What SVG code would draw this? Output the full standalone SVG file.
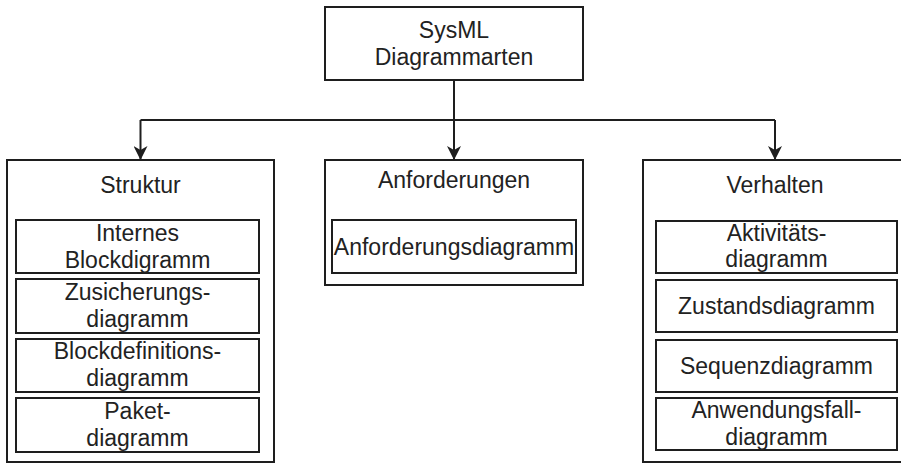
<svg xmlns="http://www.w3.org/2000/svg" width="901" height="463" viewBox="0 0 901 463">
  <style>
    .box { fill: #ffffff; stroke: #1e1e1e; stroke-width: 2; }
    .lbl { font-family: "Liberation Sans", Arial, sans-serif; font-size: 23px; fill: #222222; text-anchor: middle; }
    .wire { fill: none; stroke: #1e1e1e; stroke-width: 2; }
  </style>
  <defs>
    <!-- filled arrowhead with a slightly notched back, pointing along +x -->
    <marker id="head" markerWidth="14" markerHeight="14" refX="14" refY="7" orient="auto" markerUnits="userSpaceOnUse" viewBox="0 0 14 14">
      <path d="M0,0 L4,7 L0,14 L14,7 Z" fill="#1e1e1e"/>
    </marker>
  </defs>
  <rect width="901" height="463" fill="#ffffff"/>

  <!-- connectors -->
  <g id="connectors">
    <path class="wire" d="M454,80 V120"/>
    <path class="wire" d="M140.5,120 H775"/>
    <path class="wire" d="M140.5,120 V160" marker-end="url(#head)"/>
    <path class="wire" d="M454,120 V160" marker-end="url(#head)"/>
    <path class="wire" d="M775,120 V160" marker-end="url(#head)"/>
  </g>

  <!-- root -->
  <g id="root">
    <rect class="box" x="325" y="7" width="258" height="73"/>
    <text class="lbl" x="454" y="38">SysML</text>
    <text class="lbl" x="454" y="65">Diagrammarten</text>
  </g>

  <!-- Struktur -->
  <g id="struktur">
    <rect class="box" x="7" y="160" width="267" height="302"/>
    <text class="lbl" x="140.5" y="193">Struktur</text>
  </g>
  <g id="internes-blockdiagramm">
    <rect class="box" x="16" y="220" width="243" height="53"/>
    <text class="lbl" x="137.5" y="241">Internes</text>
    <text class="lbl" x="137.5" y="268">Blockdigramm</text>
  </g>
  <g id="zusicherungsdiagramm">
    <rect class="box" x="16" y="279" width="243" height="54"/>
    <text class="lbl" x="137.5" y="300">Zusicherungs-</text>
    <text class="lbl" x="137.5" y="327">diagramm</text>
  </g>
  <g id="blockdefinitionsdiagramm">
    <rect class="box" x="16" y="339" width="243" height="53"/>
    <text class="lbl" x="137.5" y="359">Blockdefinitions-</text>
    <text class="lbl" x="137.5" y="386">diagramm</text>
  </g>
  <g id="paketdiagramm">
    <rect class="box" x="16" y="398" width="243" height="54"/>
    <text class="lbl" x="137.5" y="419">Paket-</text>
    <text class="lbl" x="137.5" y="446">diagramm</text>
  </g>

  <!-- Anforderungen -->
  <g id="anforderungen">
    <rect class="box" x="325" y="160" width="258" height="125"/>
    <text class="lbl" x="454" y="188">Anforderungen</text>
  </g>
  <g id="anforderungsdiagramm">
    <rect class="box" x="332" y="220" width="244" height="53"/>
    <text class="lbl" x="454" y="255">Anforderungsdiagramm</text>
  </g>

  <!-- Verhalten -->
  <g id="verhalten">
    <rect class="box" x="643" y="160" width="270" height="302"/>
    <text class="lbl" x="775" y="193">Verhalten</text>
  </g>
  <g id="aktivitaetsdiagramm">
    <rect class="box" x="656" y="221" width="241" height="52"/>
    <text class="lbl" x="776.5" y="241">Aktivitäts-</text>
    <text class="lbl" x="776.5" y="267">diagramm</text>
  </g>
  <g id="zustandsdiagramm">
    <rect class="box" x="656" y="280" width="241" height="52"/>
    <text class="lbl" x="776.5" y="314">Zustandsdiagramm</text>
  </g>
  <g id="sequenzdiagramm">
    <rect class="box" x="656" y="340" width="241" height="52"/>
    <text class="lbl" x="776.5" y="374">Sequenzdiagramm</text>
  </g>
  <g id="anwendungsfalldiagramm">
    <rect class="box" x="656" y="398" width="241" height="52"/>
    <text class="lbl" x="776.5" y="418">Anwendungsfall-</text>
    <text class="lbl" x="776.5" y="445">diagramm</text>
  </g>
</svg>
